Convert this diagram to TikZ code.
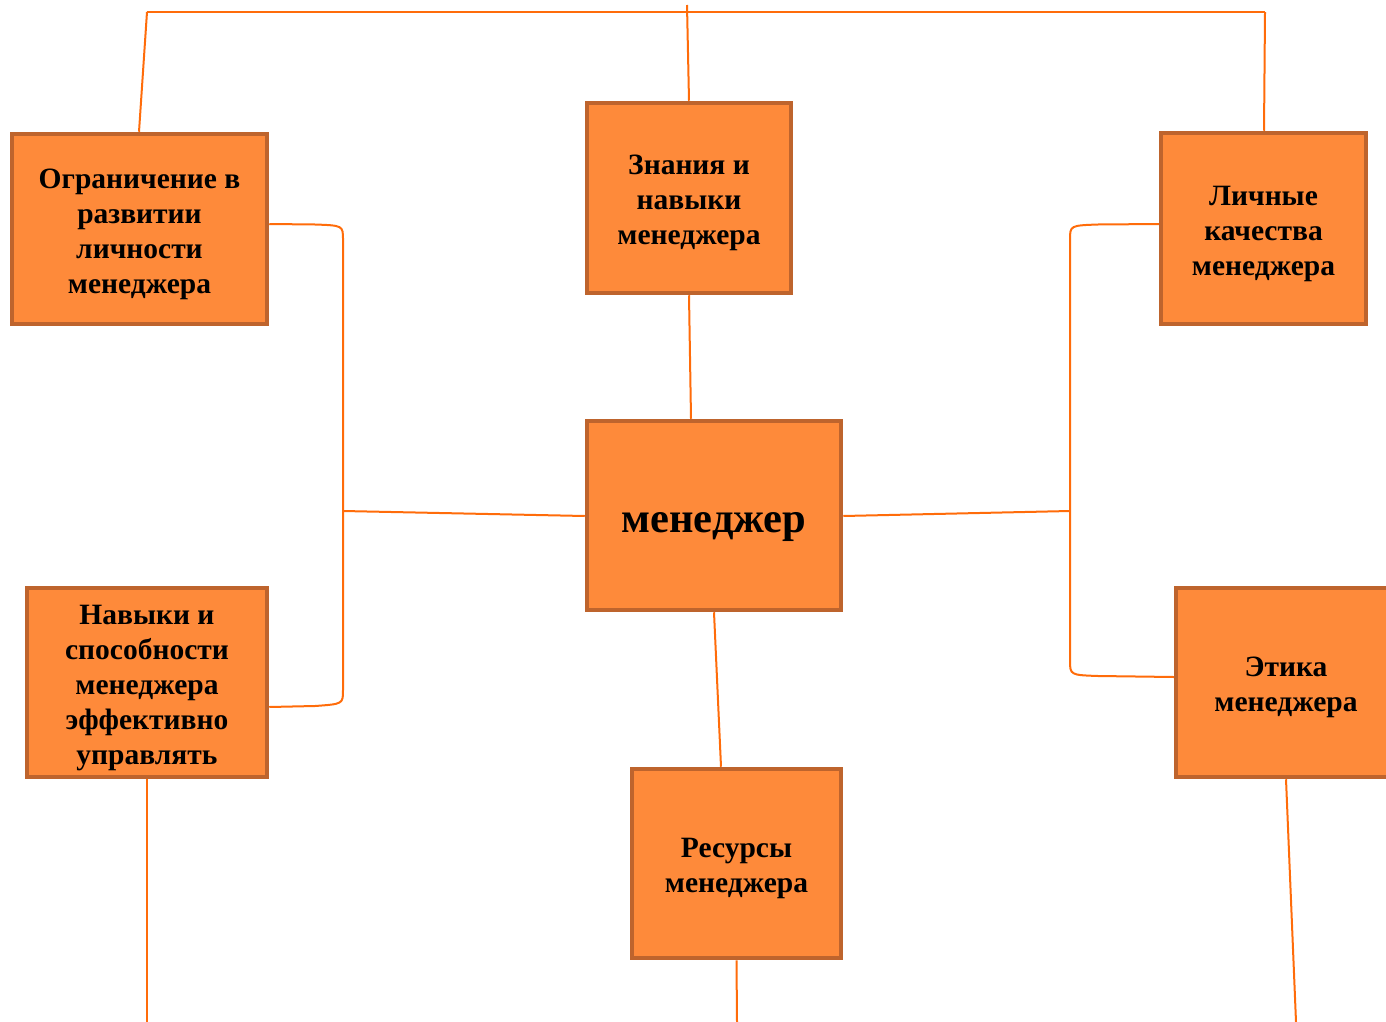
\documentclass[tikz,border=0pt]{standalone}
\usepackage{fontspec}
\setmainfont{Liberation Serif}
\definecolor{boxfill}{RGB}{254,138,58}
\definecolor{boxline}{RGB}{190,100,45}
\definecolor{wire}{RGB}{255,108,10}
\newcommand\lowr[1]{\rule{0pt}{#1}}
\tikzset{
  box/.style={draw=boxline, line width=4.5pt, fill=boxfill, align=center,
    font=\bfseries\fontsize{29.5}{35}\selectfont, inner sep=0pt},
  wire/.style={draw=wire, line width=2pt},
}
\begin{document}
\begin{tikzpicture}[x=1pt,y=-1pt]
\useasboundingbox (0,0) rectangle (1386,1022);
\begin{scope}
\clip (0,0) rectangle (1386,1022);
\node[box, minimum width=255pt, minimum height=190pt] (ogr) at (139.5,229) {\lowr{30pt}Ограничение в\\развитии\\личности\\менеджера};
\node[box, minimum width=204pt, minimum height=190pt] (zn) at (689,198) {\lowr{30pt}Знания и\\навыки\\менеджера};
\node[box, minimum width=205pt, minimum height=191pt] (lich) at (1263.5,228.5) {\lowr{31pt}Личные\\качества\\менеджера};
\node[box, minimum width=254pt, minimum height=189pt, font=\bfseries\fontsize{42.5}{50}\selectfont] (men) at (714,515.5) {\lowr{44pt}менеджер};
\node[box, minimum width=240pt, minimum height=189pt] (nav) at (147,682.5) {\lowr{30pt}Навыки и\\способности\\менеджера\\эффективно\\управлять};
\node[box, minimum width=209pt, minimum height=189pt] (res) at (736.5,863.5) {\lowr{30pt}Ресурсы\\менеджера};
\node[box, minimum width=220pt, minimum height=189pt] (eti) at (1286,682.5) {\lowr{30pt}Этика\\менеджера};
\end{scope}
% coordinates
\coordinate (busL) at (147,12);
\coordinate (busR) at (1265,12);
\coordinate (znTop) at (687,5);
\coordinate (lbr) at (343,511);
\coordinate (rbr) at (1070,511);
\coordinate (navEnd) at (147,1022);
\coordinate (resEnd) at (737,1022);
\coordinate (etiEnd) at (1296,1022);
% connectors
\draw[wire] (busL) -- (busR);
\draw[wire] (busL) -- (ogr.north -| 139,0);
\draw[wire] (znTop) -- (zn.north);
\draw[wire] (busR) -- (lich.north -| 1264,0);
\draw[wire] (zn.south) -- (men.north -| 691,0);
\draw[wire] (ogr.east |- 0,224) -- (315,224.5) .. controls (343,225.5) .. (343,240) -- (343,690) .. controls (343,704) .. (315,706) -- (nav.east |- 0,707);
\draw[wire] (lbr) -- (men.west |- 0,516);
\draw[wire] (lich.west |- 0,224) -- (1098,224.5) .. controls (1070,225.5) .. (1070,240) -- (1070,660) .. controls (1070,675) .. (1098,676) -- (eti.west |- 0,677);
\draw[wire] (men.east |- 0,516) -- (rbr);
\draw[wire] (men.south) -- (res.north -| 721,0);
\draw[wire] (res.south) -- (resEnd);
\draw[wire] (nav.south) -- (navEnd);
\draw[wire] (eti.south) -- (etiEnd);
\end{tikzpicture}
\end{document}
